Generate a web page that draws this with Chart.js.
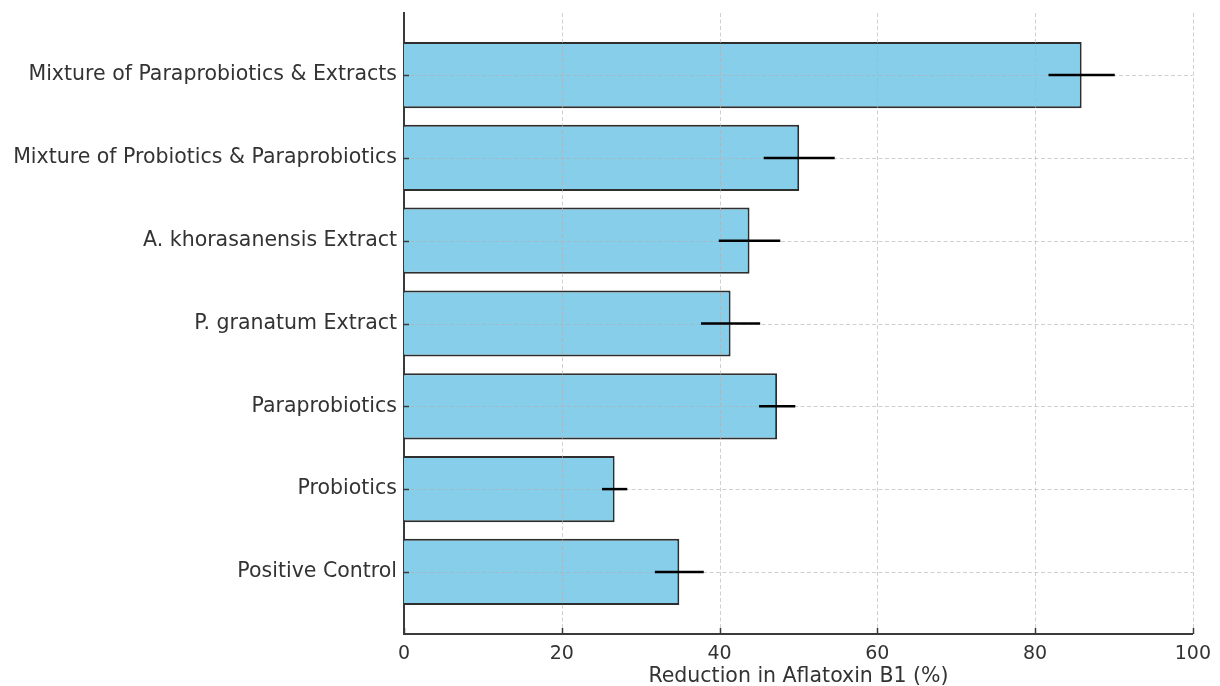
<!DOCTYPE html>
<html>
<head>
<meta charset="utf-8">
<script src="https://cdn.jsdelivr.net/npm/chart.js@4.4.1/dist/chart.umd.min.js"></script>
<style>
  html, body { margin: 0; padding: 0; background: #ffffff; }
  #wrap { width: 1220px; height: 686px; position: relative; }
</style>
</head>
<body>
<div id="wrap"><canvas id="chart" width="1220" height="686"></canvas></div>
<script>
// Treatments, listed bottom to top
const categories = [
  'Positive Control',
  'Probiotics',
  'Paraprobiotics',
  'P. granatum Extract',
  'A. khorasanensis Extract',
  'Mixture of Probiotics & Paraprobiotics',
  'Mixture of Paraprobiotics & Extracts'
];
// Mean reduction in aflatoxin B1 (%)
const reduction = [34.9, 26.7, 47.3, 41.4, 43.8, 50.1, 85.9];
// Standard deviation of each mean
const errors = [3.1, 1.6, 2.3, 3.75, 3.9, 4.5, 4.2];
// Value axis ticks
const xTicks = [0, 20, 40, 60, 80, 100];

const FONT = "'DejaVu Sans', 'Liberation Sans', sans-serif";
const TEXT = '#333333';
const AXIS = '#3a3a3a';

// Dashed grid drawn above the bars, then inward tick marks, then error bars
const overlay = {
  id: 'overlay',
  afterDatasetsDraw(chart) {
    const { ctx, chartArea: a, scales: { x, y } } = chart;
    ctx.save();
    ctx.strokeStyle = 'rgba(176,176,176,0.6)';
    ctx.lineWidth = 1;
    ctx.setLineDash([4, 2.5]);
    xTicks.forEach(v => {
      if (v === 0) return;
      const px = Math.round(x.getPixelForValue(v)) + 0.5;
      ctx.beginPath(); ctx.moveTo(px, a.top); ctx.lineTo(px, a.bottom); ctx.stroke();
    });
    categories.forEach((_, i) => {
      const py = Math.round(y.getPixelForValue(i)) + 0.5;
      ctx.beginPath(); ctx.moveTo(a.left, py); ctx.lineTo(a.right, py); ctx.stroke();
    });
    ctx.setLineDash([]);

    // tick marks pointing into the plot
    ctx.strokeStyle = AXIS;
    ctx.lineWidth = 1.5;
    xTicks.forEach(v => {
      const px = Math.round(x.getPixelForValue(v)) + 0.5;
      ctx.beginPath(); ctx.moveTo(px, a.bottom); ctx.lineTo(px, a.bottom - 6); ctx.stroke();
    });
    categories.forEach((_, i) => {
      const py = Math.round(y.getPixelForValue(i)) + 0.5;
      ctx.beginPath(); ctx.moveTo(a.left, py); ctx.lineTo(a.left + 5, py); ctx.stroke();
    });

    // symmetric error bars without caps
    ctx.strokeStyle = '#000000';
    ctx.lineWidth = 2.5;
    reduction.forEach((v, i) => {
      const py = y.getPixelForValue(i);
      ctx.beginPath();
      ctx.moveTo(x.getPixelForValue(v - errors[i]), py);
      ctx.lineTo(x.getPixelForValue(v + errors[i]), py);
      ctx.stroke();
    });
    ctx.restore();
  }
};

new Chart(document.getElementById('chart'), {
  type: 'bar',
  data: {
    datasets: [{
      data: reduction.map((v, i) => ({ x: v, y: i })),
      backgroundColor: '#87CEEB',
      borderColor: '#2e2e2e',
      borderWidth: 2,
      barPercentage: 0.8,
      categoryPercentage: 1.0
    }]
  },
  options: {
    indexAxis: 'y',
    responsive: false,
    animation: false,
    layout: { padding: { top: 13, right: 27, bottom: 0, left: 0 } },
    plugins: { legend: { display: false }, tooltip: { enabled: false } },
    scales: {
      x: {
        type: 'linear',
        min: 0,
        max: 100,
        afterBuildTicks: s => { s.ticks = xTicks.map(v => ({ value: v })); },
        afterFit: s => { s.height = 52; },
        grid: { display: false, drawTicks: false },
        border: { display: true, color: AXIS, width: 2 },
        ticks: {
          padding: 9,
          color: TEXT,
          font: { family: FONT, size: 19 },
          callback: v => String(v)
        },
        title: {
          display: true,
          text: 'Reduction in Aflatoxin B1 (%)',
          color: TEXT,
          font: { family: FONT, size: 20.5 },
          padding: { top: 2, bottom: -3 }
        }
      },
      y: {
        type: 'linear',
        offset: false,
        min: -0.75,
        max: 6.75,
        afterBuildTicks: s => { s.ticks = categories.map((_, i) => ({ value: i })); },
        afterFit: s => { s.width = 404; s.paddingTop = 0; s.paddingBottom = 0; },
        grid: { display: false, drawTicks: false },
        border: { display: true, color: AXIS, width: 2 },
        ticks: {
          padding: 7,
          color: TEXT,
          font: { family: FONT, size: 20.5 },
          callback: v => categories[v]
        }
      }
    }
  },
  plugins: [overlay]
});
</script>
</body>
</html>
